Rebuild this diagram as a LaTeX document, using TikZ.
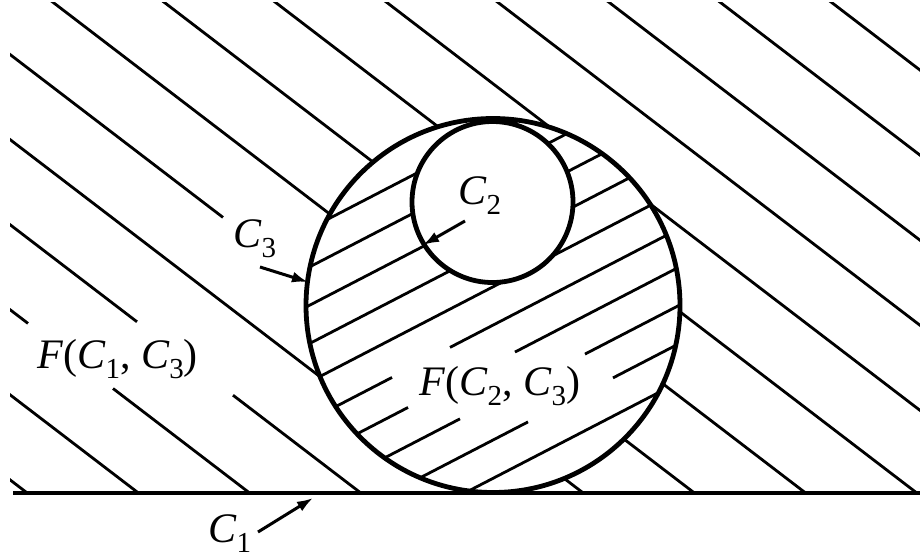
\documentclass[tikz,border=0pt]{standalone}
\usepackage{fontspec}
\setmainfont{Liberation Serif}
\usetikzlibrary{arrows.meta}
\newcommand\lsub[1]{\raisebox{-0.25em}{\fontsize{29}{29}\selectfont #1}}
\begin{document}
\begin{tikzpicture}[x=1pt,y=-1pt,
  hatch/.style={line width=2.8pt},
  bound/.style={line width=4.8pt},
  lbl/.style={font=\fontsize{42}{50}\selectfont, inner sep=0pt, anchor=base west},
  pointer/.style={line width=3pt, -{Latex[length=16pt,width=11pt]}}]
\useasboundingbox (0,0) rectangle (920,558);
% ---- hatching outside C3 (region F(C1,C3))
\begin{scope}
  \clip (10,2) rectangle (921,493);
  \foreach \a in {-617.2,-506,-172.4,50,161.2,272.4,383.6,494.8,606,717.2,828.4}
    \draw[hatch] ({\a-13.07},-10) -- ({\a+666.67},510);
  \draw[hatch] ({-61.2-13.07},-10) -- (223,217.4);
  \draw[hatch] (450,391.1) -- ({-61.2+666.67},510);
  \draw[hatch] ({-283.6-13.07},-10) -- (137,321.8);
  \draw[hatch] (233,395.2) -- ({-283.6+666.67},510);
  \draw[hatch] ({-394.8-13.07},-10) -- (28,323.4);
  \draw[hatch] (113,388.5) -- ({-394.8+666.67},510);
\end{scope}
% ---- disk C3
\fill[white] (493,305.5) circle[radius=187pt];
\begin{scope}
  \clip (493,305.5) circle[radius=187pt];
  \foreach \b in {389,427.3,465.6,503.9,542.2,733.7}
    \draw[hatch] (280,{\b-145.04}) -- (720,{\b-372.96});
  \draw[hatch] (280,435.46) -- (392,377.44);
  \draw[hatch] (450,347.4) -- (720,207.54);
  \draw[hatch] (280,473.76) -- (408,407.46);
  \draw[hatch] (515,352.03) -- (720,245.84);
  \draw[hatch] (280,512.06) -- (460,418.82);
  \draw[hatch] (585,354.07) -- (720,284.14);
  \draw[hatch] (280,550.36) -- (528,421.9);
  \draw[hatch] (613,377.87) -- (720,322.44);
\end{scope}
\fill[white] (492.5,202) circle[radius=80.5pt];
% ---- curves
\draw[bound] (493,305.5) circle[radius=187pt];
\draw[bound] (492.5,202) circle[radius=80.5pt];
\coordinate (c1l) at (13,493);
\coordinate (c1r) at (920,493);
\draw[bound] (c1l) -- (c1r);
% ---- labels
\node[lbl] (lc3) at (233,247) {\textit{C}\lsub{3}};
\node[lbl] (lc2) at (458,204) {\textit{C}\lsub{2}};
\node[lbl] (lf13) at (37,368) {\textit{F}(\textit{C}\lsub{1}, \textit{C}\lsub{3})};
\node[lbl] (lf23) at (419,395) {\textit{F}(\textit{C}\lsub{2}, \textit{C}\lsub{3})};
\node[lbl] (lc1) at (208,542) {\textit{C}\lsub{1}};
% ---- pointers
\coordinate (c3a) at (260,267); \coordinate (c3b) at (308,282);
\coordinate (c2a) at (465,221); \coordinate (c2b) at (423,245);
\coordinate (c1a) at (258,532); \coordinate (c1b) at (313,498);
\draw[pointer] (c3a) -- (c3b);
\draw[pointer] (c2a) -- (c2b);
\draw[pointer] (c1a) -- (c1b);
\end{tikzpicture}
\end{document}
